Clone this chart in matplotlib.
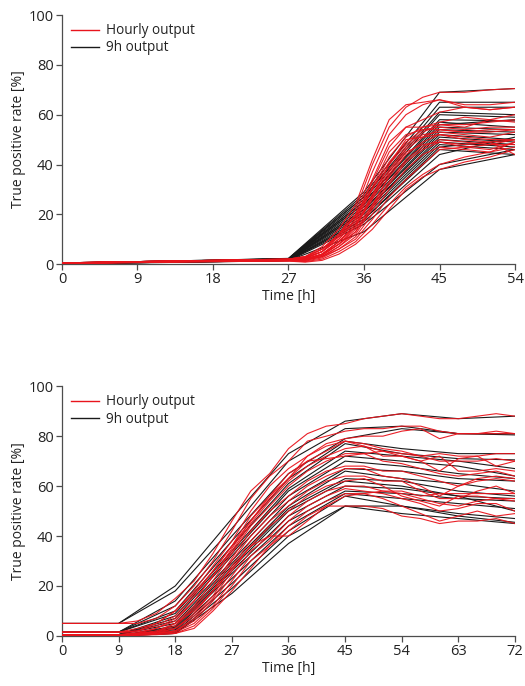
import matplotlib.pyplot as plt
from matplotlib.lines import Line2D

plt.rcParams['font.family'] = ['Open Sans', 'DejaVu Sans']

# ---------------------------------------------------------------------------
# Top panel (54 h)
# ---------------------------------------------------------------------------
t9_top = [0, 9, 18, 27, 36, 45, 54]
black_top = [
    [0.5, 1.0, 1.6, 2.3, 29, 69, 70.5],
    [0.5, 1.0, 1.6, 2.2, 28, 65, 65],
    [0.5, 1.0, 1.5, 2.2, 27, 63, 63],
    [0.4, 1.0, 1.5, 2.1, 27, 61, 60],
    [0.4, 0.9, 1.5, 2.1, 26, 60, 59],
    [0.4, 0.9, 1.4, 2.0, 25, 58, 57.5],
    [0.4, 0.9, 1.4, 2.0, 25, 57, 55],
    [0.3, 0.9, 1.4, 2.0, 24, 56, 58],
    [0.3, 0.8, 1.3, 1.9, 24, 55, 54],
    [0.3, 0.8, 1.3, 1.9, 23, 54, 53],
    [0.3, 0.8, 1.3, 1.8, 22, 53, 52],
    [0.3, 0.8, 1.2, 1.8, 22, 52, 50],
    [0.3, 0.7, 1.2, 1.8, 21, 51, 49],
    [0.2, 0.7, 1.2, 1.7, 21, 50, 48],
    [0.2, 0.7, 1.1, 1.7, 20, 49, 47],
    [0.2, 0.7, 1.1, 1.6, 19, 48, 46],
    [0.2, 0.6, 1.1, 1.6, 18, 47, 50],
    [0.2, 0.6, 1.0, 1.5, 18, 46, 44],
    [0.2, 0.6, 1.0, 1.5, 17, 44, 51],
    [0.2, 0.6, 1.0, 1.4, 16, 40, 46],
    [0.1, 0.5, 0.9, 1.4, 13, 38, 44],
]

t_red_top = [0, 9, 18, 27, 29, 31, 33, 35, 37, 39, 41, 43, 45, 48, 51, 54]
red_top = [
    [0.5, 1.0, 1.5, 2.0, 3.0, 6, 12, 22, 40, 55, 63, 67, 69, 69, 70, 70.5],
    [0.5, 1.0, 1.5, 2.0, 3.0, 6, 11, 20, 37, 52, 60, 64, 66, 64, 64, 65],
    [0.5, 1.0, 1.5, 1.8, 2.5, 5, 10, 18, 33, 47, 55, 58, 61, 63, 62, 63],
    [0.3, 1.0, 1.4, 1.8, 2.5, 5, 10, 17, 30, 43, 51, 55, 57, 59, 58, 60],
    [0.3, 0.8, 1.4, 1.7, 2.0, 4, 9, 16, 28, 40, 48, 53, 56, 55, 58, 57],
    [0.5, 1.0, 1.5, 2.0, 2.5, 5, 12, 20, 30, 41, 49, 54, 55, 54, 55, 55],
    [0.4, 1.0, 1.3, 1.7, 2.0, 4, 8, 15, 26, 37, 46, 51, 54, 53, 53, 54],
    [0.4, 0.9, 1.4, 1.8, 2.0, 4, 9, 16, 27, 38, 47, 52, 53, 52, 51, 53],
    [0.4, 0.9, 1.3, 1.6, 1.8, 3.5, 8, 14, 24, 35, 44, 49, 52, 50, 49, 50],
    [0.3, 0.8, 1.2, 1.6, 1.8, 3, 7, 13, 23, 33, 42, 47, 50, 49, 48, 48],
    [0.3, 0.8, 1.2, 1.5, 1.5, 3, 7, 12, 22, 32, 41, 46, 49, 47, 46, 49],
    [0.3, 0.8, 1.2, 1.5, 1.5, 3, 6, 11, 20, 30, 38, 44, 47, 46, 45, 47],
    [0.3, 0.7, 1.1, 1.4, 1.2, 2.5, 6, 10, 18, 27, 34, 40, 46, 47, 48, 50],
    [0.2, 0.7, 1.0, 1.3, 1.0, 2, 5, 9, 16, 24, 31, 36, 40, 43, 45, 49],
    [0.2, 0.6, 1.0, 1.2, 0.8, 1.5, 4, 8, 14, 22, 30, 35, 38, 41, 43, 46],
    [0.5, 1.0, 1.5, 2.0, 3.0, 7, 14, 24, 42, 58, 64, 65, 66, 63, 62, 63],
    [0.4, 1.0, 1.5, 1.9, 2.5, 6, 12, 19, 34, 49, 55, 55, 56, 56, 57, 58],
    [0.4, 1.0, 1.4, 1.8, 2.2, 5, 11, 18, 31, 45, 52, 54, 54, 53, 54, 54],
    [0.3, 0.9, 1.3, 1.7, 2.0, 4, 9, 15, 27, 40, 50, 51, 52, 51, 50, 50],
    [0.3, 0.8, 1.2, 1.5, 1.8, 3.5, 8, 13, 23, 36, 45, 48, 49, 48, 49, 44],
]

# ---------------------------------------------------------------------------
# Bottom panel (72 h)
# ---------------------------------------------------------------------------
t9_bot = [0, 9, 18, 27, 36, 45, 54, 63, 72]
black_bot = [
    [5, 5, 20, 47, 73, 86, 89, 87, 88],
    [5, 5, 18, 43, 70, 83, 84, 81, 81],
    [1.5, 1.5, 14, 40, 65, 79, 83, 81, 80.5],
    [1.5, 1.5, 12, 38, 63, 78, 75, 73, 73],
    [1.5, 1.5, 10, 36, 61, 77, 73, 71, 70.5],
    [1.5, 1.5, 9, 34, 59, 74, 72, 70, 67],
    [0.5, 0.5, 8, 33, 58, 72, 70, 68, 64],
    [0.5, 0.5, 7, 32, 56, 70, 68, 65, 63],
    [0.5, 0.5, 6, 30, 54, 67, 66, 63, 62],
    [0.5, 0.5, 5, 29, 52, 66, 63, 61, 58],
    [0, 0, 4, 28, 51, 63, 62, 58, 56],
    [0, 0, 3.5, 27, 50, 62, 60, 56, 55],
    [0, 0, 3, 26, 48, 60, 59, 56, 50],
    [0, 0, 2.5, 25, 46, 58, 57, 55, 54],
    [0, 0, 2, 23, 44, 57, 55, 53, 51],
    [0, 0, 1.5, 21, 42, 56, 52, 49, 47],
    [0, 0, 1, 19, 40, 52, 52, 48, 45.5],
    [0, 0, 1, 17, 37, 52, 49, 47, 45],
]

t_red_bot = [0, 9, 12, 15, 18, 21, 24, 27, 30, 33, 36, 39, 42, 45,
             48, 51, 54, 57, 60, 63, 66, 69, 72]
red_bot = [
    [5, 5, 6, 9, 15, 22, 33, 46, 58, 65, 75, 81, 84, 85, 87, 88, 89, 88, 87, 87, 88, 89, 88],
    [5, 5, 5, 7, 12, 20, 30, 42, 55, 64, 70, 78, 80, 82, 83, 83, 84, 84, 82, 81, 81, 81, 81],
    [1.5, 1.5, 3, 5, 10, 18, 28, 38, 50, 60, 67, 72, 77, 79, 80, 80, 82, 83, 79, 81, 81, 82, 81],
    [1.5, 1.5, 2, 4, 8, 16, 26, 36, 48, 56, 63, 70, 74, 78, 77, 75, 74, 72, 73, 72, 72, 73, 73],
    [1.5, 1.5, 1.5, 3, 6, 14, 24, 34, 45, 54, 62, 68, 72, 75, 76, 72, 72, 70, 66, 71, 72, 68, 70],
    [0.5, 0.5, 1, 2, 5, 12, 22, 33, 44, 52, 60, 66, 70, 73, 73, 70, 69, 67, 65, 64, 65, 66, 64],
    [0.5, 0.5, 1, 1.5, 4, 11, 20, 31, 42, 50, 56, 62, 66, 68, 68, 66, 66, 64, 62, 60, 63, 64, 63],
    [0.5, 0.5, 1, 1.5, 3, 9, 18, 30, 40, 48, 54, 60, 64, 67, 67, 64, 63, 60, 56, 60, 62, 63, 62],
    [0, 0, 0.5, 1, 3, 8, 16, 28, 38, 46, 52, 58, 62, 64, 64, 62, 62, 58, 55, 55, 58, 60, 57],
    [0, 0, 0.5, 1, 2, 7, 15, 26, 36, 44, 50, 56, 60, 62, 63, 60, 56, 54, 52, 56, 56, 55, 55],
    [0, 0, 0.5, 1, 2, 6, 14, 24, 34, 40, 48, 54, 58, 60, 60, 58, 57, 55, 53, 52, 54, 55, 54],
    [0, 0, 0.5, 1, 1.5, 5, 12, 22, 32, 38, 46, 52, 56, 59, 58, 57, 55, 53, 50, 51, 53, 53, 50],
    [0, 0, 0.3, 0.7, 1, 4, 11, 20, 30, 36, 44, 50, 54, 57, 57, 55, 52, 49, 46, 48, 50, 48, 49],
    [0, 0, 0.3, 0.5, 1, 3, 10, 18, 27, 36, 42, 48, 52, 52, 52, 51, 48, 47, 45, 46, 46, 47, 45],
    [1.5, 1.5, 2, 5, 10, 17, 26, 36, 46, 55, 63, 72, 76, 78, 76, 74, 73, 72, 70, 70, 70, 71, 70],
    [0.5, 0.5, 1, 3, 7, 14, 24, 35, 46, 56, 65, 70, 71, 72, 73, 74, 72, 70, 72, 66, 66, 67, 66],
    [0, 0, 0.5, 1.5, 5, 10, 18, 27, 36, 40, 40, 46, 52, 56, 57, 58, 58, 56, 57, 57, 57, 57, 57],
]

RED = '#e8141c'
BLACK = '#1a1a1a'
SPINE = '#4d4d4d'


def draw_panel(ax, t9, blacks, t_red, reds, xmax):
    for y in blacks:
        ax.plot(t9, y, color=BLACK, lw=0.8, zorder=2)
    for y in reds:
        ax.plot(t_red, y, color=RED, lw=0.8, alpha=0.95, zorder=3)
    ax.set_xlim(0, xmax)
    ax.set_ylim(0, 100)
    ax.set_xticks(range(0, xmax + 1, 9))
    ax.set_yticks(range(0, 101, 20))
    ax.set_xlabel('Time [h]', fontsize=10, labelpad=1, color='#222222')
    ax.set_ylabel('True positive rate [%]', fontsize=10, labelpad=2, color='#222222')
    for s in ['top', 'right']:
        ax.spines[s].set_visible(False)
    for s in ['left', 'bottom']:
        ax.spines[s].set_color(SPINE)
        ax.spines[s].set_linewidth(0.9)
    ax.tick_params(direction='out', length=4, width=0.9, color=SPINE,
                   labelsize=10.5, labelcolor='#222222', pad=2)
    handles = [Line2D([], [], color=RED, lw=1.0),
               Line2D([], [], color=BLACK, lw=1.0)]
    ax.legend(handles, ['Hourly output', '9h output'], loc='upper left',
              bbox_to_anchor=(0.0, 1.005), frameon=False, fontsize=9.8,
              handlelength=2.0, handletextpad=0.5, labelspacing=0.15,
              borderaxespad=0.3)
    for txt in ax.get_legend().get_texts():
        txt.set_color('#222222')


fig = plt.figure(figsize=(5.25, 6.86), dpi=100)
ax1 = fig.add_axes([0.118, 0.615, 0.863, 0.363])
ax2 = fig.add_axes([0.118, 0.073, 0.863, 0.364])

draw_panel(ax1, t9_top, black_top, t_red_top, red_top, 54)
draw_panel(ax2, t9_bot, black_bot, t_red_bot, red_bot, 72)

fig.savefig('out.png', dpi=100, facecolor='white')
